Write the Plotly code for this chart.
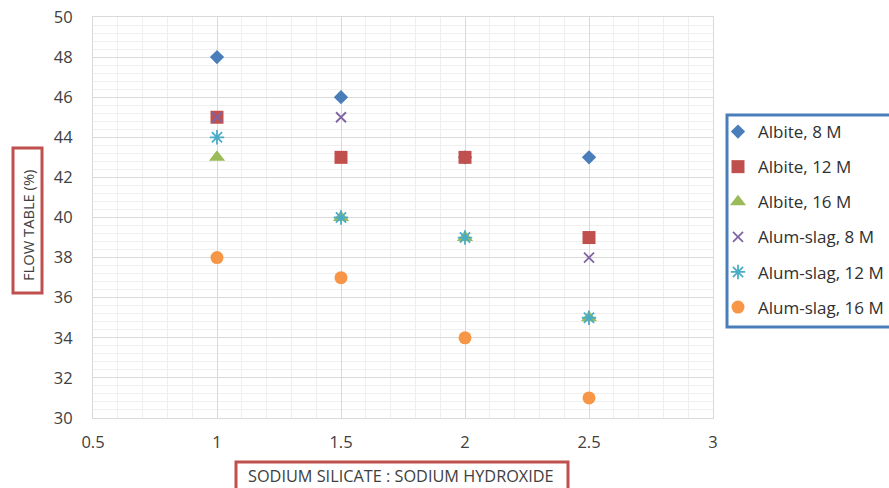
import plotly.graph_objects as go

# Sodium silicate : sodium hydroxide ratio
x_ratio = [1, 1.5, 2, 2.5]

# Flow table (%) per mix
albite_8m = [48, 46, 43, 43]
albite_12m = [45, 43, 43, 39]
albite_16m = [43, 40, 39, 35]
alum_slag_8m = [45, 45, None, 38]
alum_slag_12m = [44, 40, 39, 35]
alum_slag_16m = [38, 37, 34, 31]

x_ticks = [0.5, 1, 1.5, 2, 2.5, 3]
y_ticks = [30, 32, 34, 36, 38, 40, 42, 44, 46, 48, 50]

W, H = 889, 488
L, R, T, B = 93, 713, 17, 418  # plot area in pixels


def px_x(p):
    return (p - L) / (R - L)


def px_y(p):
    return (B - p) / (B - T)


FONT = "Open Sans"
TEXT = "#404040"

series = [
    ("Albite, 8 M", albite_8m, dict(symbol="diamond", size=11, color="#4A7EBB")),
    ("Albite, 12 M", albite_12m, dict(symbol="square", size=13, color="#C0504D")),
    ("Albite, 16 M", albite_16m, dict(symbol="triangle-up", size=14, color="#9BBB59")),
    ("Alum-slag, 8 M", alum_slag_8m,
     dict(symbol="x-thin-open", size=10, color="#8064A2", line=dict(width=1.8, color="#8064A2"))),
    ("Alum-slag, 12 M", alum_slag_12m,
     dict(symbol="asterisk-open", size=12, color="#4BACC6", line=dict(width=1.8, color="#4BACC6"))),
    ("Alum-slag, 16 M", alum_slag_16m, dict(symbol="circle", size=13, color="#F79646")),
]

fig = go.Figure()
for i, (name, ys, mk) in enumerate(series):
    fig.add_trace(go.Scatter(
        x=x_ratio, y=ys, mode="markers", name=name, marker=mk,
        legendgroup=f"g{i}", cliponaxis=False,
    ))

grid_major = "#D9D9D9"
grid_minor = "#EFEFEF"

fig.update_xaxes(
    range=[0.5, 3], tickvals=x_ticks, ticktext=[f"{v:g}" for v in x_ticks],
    showgrid=True, gridcolor=grid_major, gridwidth=1,
    minor=dict(dtick=0.1, tick0=0.5, showgrid=True, gridcolor=grid_minor, gridwidth=1),
    showline=True, linecolor=grid_major, linewidth=1, mirror=True,
    zeroline=False, ticks="", ticklabelstandoff=9,
    tickfont=dict(family=FONT, size=16.5, color=TEXT),
)
fig.update_yaxes(
    range=[30, 50], tickvals=y_ticks,
    showgrid=True, gridcolor=grid_major, gridwidth=1,
    minor=dict(dtick=0.4, tick0=30, showgrid=True, gridcolor=grid_minor, gridwidth=1),
    showline=True, linecolor=grid_major, linewidth=1, mirror=True,
    zeroline=False, ticks="", ticklabelstandoff=16,
    tickfont=dict(family=FONT, size=16.5, color=TEXT),
)

shapes = [
    # legend frame
    dict(type="rect", xref="paper", yref="paper",
         x0=px_x(727), x1=px_x(900), y0=px_y(115), y1=px_y(327),
         line=dict(color="#4A7EBB", width=3), fillcolor="rgba(0,0,0,0)"),
    # y-axis title frame
    dict(type="rect", xref="paper", yref="paper",
         x0=px_x(13), x1=px_x(42), y0=px_y(148), y1=px_y(293),
         line=dict(color="#C0504D", width=3), fillcolor="rgba(0,0,0,0)"),
    # x-axis title frame
    dict(type="rect", xref="paper", yref="paper",
         x0=px_x(236), x1=px_x(568), y0=px_y(462), y1=px_y(500),
         line=dict(color="#C0504D", width=3), fillcolor="rgba(0,0,0,0)"),
]

annotations = [
    dict(text="FLOW TABLE (%)", xref="paper", yref="paper",
         x=px_x(28), y=px_y(226), showarrow=False, textangle=-90,
         font=dict(family=FONT, size=14.7, color=TEXT), xanchor="center", yanchor="middle"),
    dict(text="SODIUM SILICATE : SODIUM HYDROXIDE", xref="paper", yref="paper",
         x=px_x(401), y=px_y(476), showarrow=False,
         font=dict(family=FONT, size=16.3, color=TEXT), xanchor="center", yanchor="middle"),
]

fig.update_layout(
    width=W, height=H,
    margin=dict(l=L, r=W - R, t=T, b=H - B, autoexpand=False),
    paper_bgcolor="white", plot_bgcolor="white",
    shapes=shapes, annotations=annotations,
    legend=dict(
        x=px_x(718), y=px_y(114), xanchor="left", yanchor="top",
        font=dict(family=FONT, size=17, color="#303030"),
        tracegroupgap=10, itemwidth=30, borderwidth=0,
        bgcolor="rgba(0,0,0,0)",
    ),
    showlegend=True,
)

fig.write_html("out.html")
